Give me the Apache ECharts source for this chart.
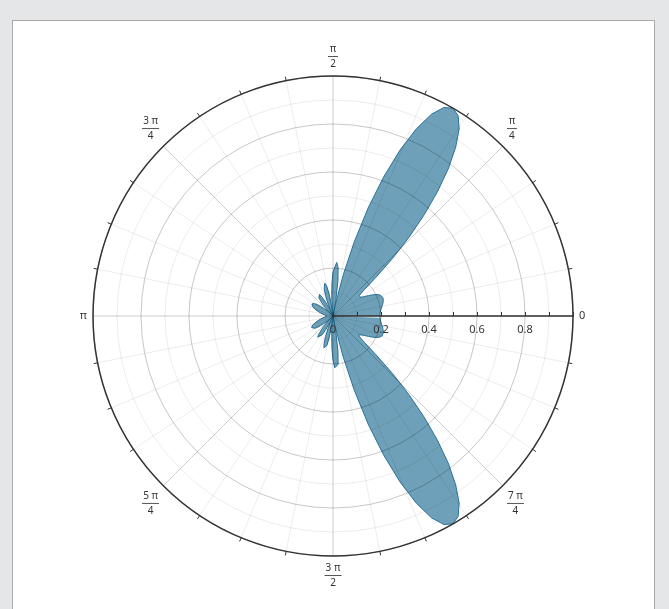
<!DOCTYPE html>
<html>
<head>
<meta charset="utf-8">
<script src="https://cdn.jsdelivr.net/npm/echarts@6/dist/echarts.min.js"></script>
<style>
  html, body { margin: 0; padding: 0; width: 669px; height: 609px; background: #e5e6e8; overflow: hidden; }
  #panel { position: absolute; left: 12px; top: 20px; width: 641px; height: 600px; background: #fff; border: 1px solid #a9a9a9; }
  #chart { position: absolute; left: 0; top: 0; width: 669px; height: 609px; }
</style>
</head>
<body>
<div id="panel"></div>
<div id="chart"></div>
<script>
// Angle (degrees) of each sample of the pattern
var angles = [
  0, 2, 4, 6, 8, 10, 12, 14, 16, 18, 20, 22, 24, 26, 28, 30, 32, 34, 36, 38,
  40, 42, 44, 46, 48, 50, 52, 54, 56, 58, 60, 62, 64, 66, 68, 70, 72, 74, 76, 78, 78.8,
  80, 82, 84, 86, 88, 90, 92, 94, 96, 96.3, 98, 100, 102, 104, 106, 108, 110, 112, 114, 114.5,
  116, 118, 120, 122, 124, 126, 128, 130, 132, 134, 136, 138, 140, 142, 144, 146, 148, 150,
  152, 154, 156, 158, 160, 162, 164, 166, 168, 170, 172, 174, 176, 178, 180,
  182, 184, 186, 188, 190, 192, 194, 196, 198, 200, 202, 204, 206, 208, 210, 212, 214, 216,
  218, 220, 222, 224, 226, 228, 230, 232, 234, 236, 238, 240, 242, 244, 245.5,
  246, 248, 250, 252, 254, 256, 258, 260, 262, 263.7, 264, 266, 268, 270, 272, 274, 276, 278, 280,
  281.2, 282, 284, 286, 288, 290, 292, 294, 296, 298, 300, 302, 304, 306, 308, 310, 312, 314, 316, 318, 320,
  322, 324, 326, 328, 330, 332, 334, 336, 338, 340, 342, 344, 346, 348, 350, 352, 354, 356, 358, 360
];
// Pattern magnitude at each angle
var magnitudes = [
  0.195, 0.196, 0.197, 0.199, 0.202, 0.206, 0.210, 0.214, 0.218, 0.221, 0.222, 0.221, 0.215, 0.204, 0.188, 0.170, 0.152, 0.138, 0.132, 0.140,
  0.170, 0.240, 0.345, 0.456, 0.569, 0.679, 0.782, 0.870, 0.940, 0.984, 1.000, 0.984, 0.935, 0.854, 0.746, 0.616, 0.472, 0.322, 0.177, 0.045, 0,
  0.066, 0.150, 0.203, 0.224, 0.216, 0.184, 0.133, 0.073, 0.010, 0, 0.048, 0.095, 0.127, 0.141, 0.138, 0.120, 0.090, 0.052, 0.011, 0,
  0.029, 0.063, 0.090, 0.106, 0.112, 0.109, 0.096, 0.077, 0.054, 0.027, 0, 0.025, 0.047, 0.066, 0.081, 0.092, 0.099, 0.101,
  0.101, 0.097, 0.092, 0.085, 0.077, 0.069, 0.061, 0.054, 0.047, 0.040, 0.035, 0.031, 0.028, 0.026, 0.026,
  0.026, 0.028, 0.031, 0.035, 0.040, 0.047, 0.054, 0.061, 0.069, 0.077, 0.085, 0.092, 0.097, 0.101, 0.101, 0.099, 0.092, 0.081,
  0.066, 0.047, 0.025, 0, 0.027, 0.054, 0.077, 0.096, 0.109, 0.112, 0.106, 0.090, 0.063, 0.029, 0,
  0.011, 0.052, 0.090, 0.120, 0.138, 0.141, 0.127, 0.095, 0.048, 0, 0.010, 0.073, 0.133, 0.184, 0.216, 0.224, 0.203, 0.150, 0.066,
  0, 0.045, 0.177, 0.322, 0.472, 0.616, 0.746, 0.854, 0.935, 0.984, 1.000, 0.984, 0.940, 0.870, 0.782, 0.679, 0.569, 0.456, 0.345, 0.240, 0.170,
  0.140, 0.132, 0.138, 0.152, 0.170, 0.188, 0.204, 0.215, 0.221, 0.222, 0.221, 0.218, 0.214, 0.210, 0.206, 0.202, 0.199, 0.197, 0.196, 0.195
];
// Angle tick labels (every 45 degrees), "numerator/denominator"
var angleTickLabels = ['0', 'π/4', 'π/2', '3 π/4', 'π', '5 π/4', '3 π/2', '7 π/4'];
// Radius tick labels
var radiusTickLabels = ['0', '0.2', '0.4', '0.6', '0.8', ''];

var data = angles.map(function (a, i) { return [magnitudes[i], a]; });

var chart = echarts.init(document.getElementById('chart'), null, { renderer: 'canvas' });
var font = "'Noto Sans', 'Open Sans', sans-serif";

chart.setOption({
  animation: false,
  backgroundColor: 'transparent',
  polar: { center: [333, 316], radius: 240 },
  angleAxis: {
    type: 'value', min: 0, max: 360, interval: 45, startAngle: 0, clockwise: false,
    z: 4,
    axisLine: { show: true, lineStyle: { color: '#333', width: 1.5 } },
    axisTick: { show: false },
    minorTick: { show: true, splitNumber: 4, length: 4, lineStyle: { color: '#333', width: 1 } },
    splitLine: { show: true, lineStyle: { color: 'rgba(0,0,0,0.2)', width: 1 } },
    minorSplitLine: { show: true, lineStyle: { color: 'rgba(0,0,0,0.08)', width: 1 } },
    axisLabel: {
      margin: 6,
      color: '#333', fontFamily: font, fontSize: 11,
      formatter: function (v) {
        var idx = Math.round(v / 45) % 8;
        var s = angleTickLabels[idx];
        if (s.indexOf('/') < 0) return '{s|' + s + '}';
        var p = s.split('/');
        return '{n|' + p[0] + '}\n{b' + (p[0].length > 1 ? 'w' : '') + '|}\n{d|' + p[1] + '}';
      },
      rich: {
        s: { fontSize: 11, color: '#333', fontFamily: font },
        n: { fontSize: 10, color: '#333', fontFamily: font, lineHeight: 12, align: 'center' },
        d: { fontSize: 10, color: '#333', fontFamily: font, lineHeight: 12, align: 'center' },
        b: { width: 10, height: 1, backgroundColor: '#555', lineHeight: 3, align: 'center' },
        bw: { width: 17, height: 1, backgroundColor: '#555', lineHeight: 3, align: 'center' }
      }
    }
  },
  radiusAxis: {
    type: 'value', min: 0, max: 1, interval: 0.2,
    z: 4,
    axisLine: { show: true, lineStyle: { color: '#333', width: 1.5 } },
    axisTick: { show: true, length: 4, lineStyle: { color: '#333' } },
    minorTick: { show: true, splitNumber: 2, length: 4, lineStyle: { color: '#333' } },
    splitLine: { show: true, lineStyle: { color: 'rgba(0,0,0,0.22)', width: 1 } },
    minorSplitLine: { show: true, lineStyle: { color: 'rgba(0,0,0,0.08)', width: 1 } },
    axisLabel: {
      color: '#333', fontFamily: font, fontSize: 11, margin: -8, verticalAlign: 'top',
      formatter: function (v) { return radiusTickLabels[Math.round(v / 0.2)]; }
    }
  },
  series: [{
    type: 'line', coordinateSystem: 'polar', data: data,
    showSymbol: false, smooth: false, silent: true,
    lineStyle: { color: '#2a7398', width: 1 },
    areaStyle: { color: '#2a7398', opacity: 0.68 },
    z: 3
  }]
});
</script>
</body>
</html>
